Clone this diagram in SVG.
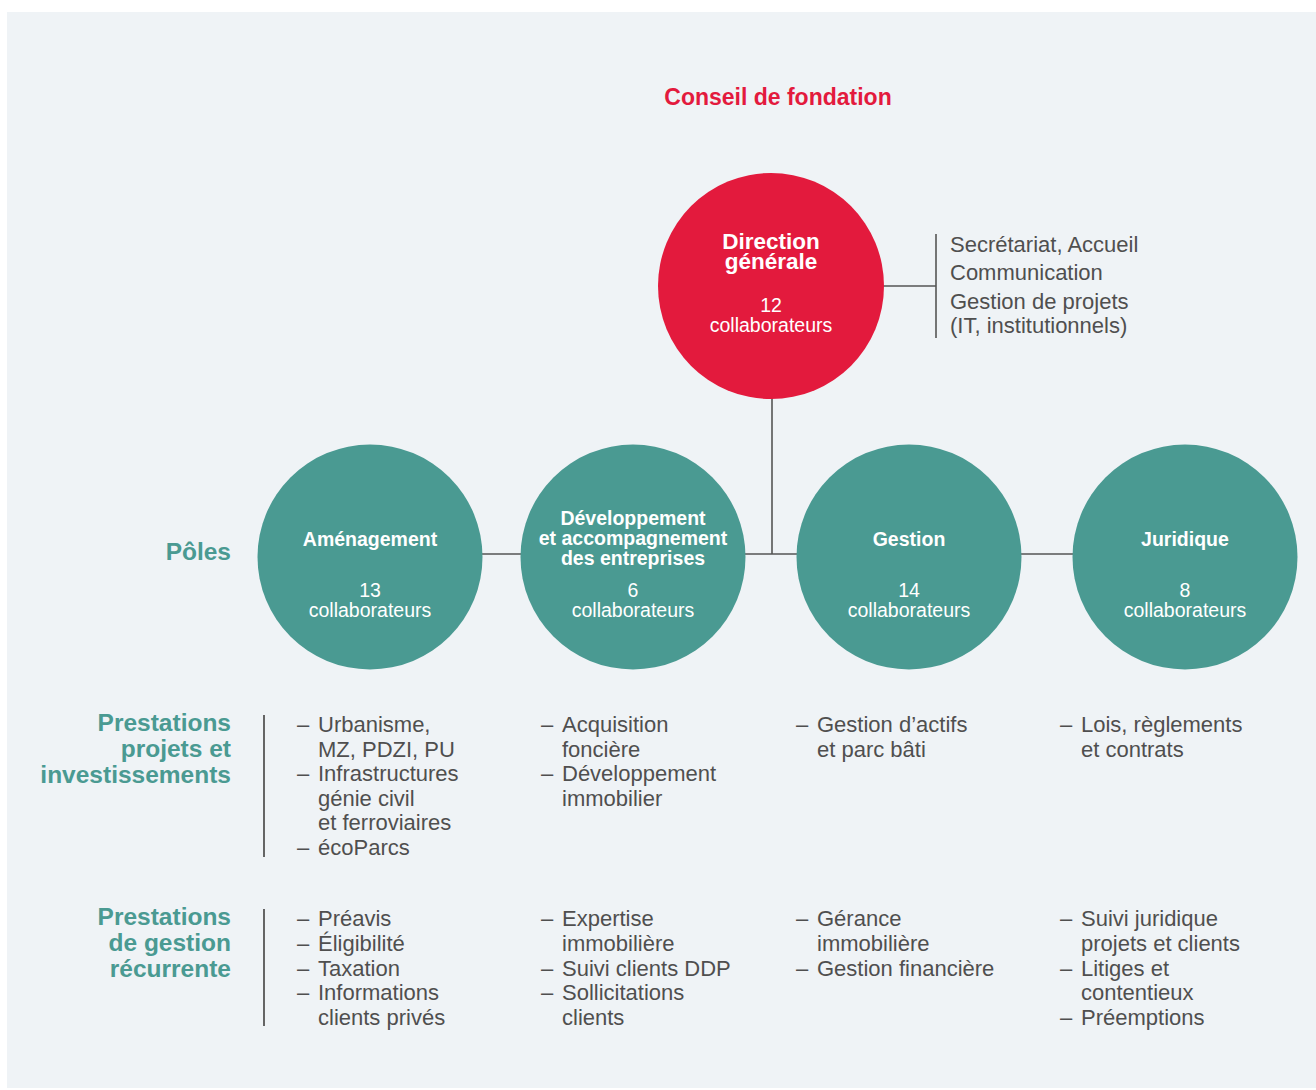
<svg xmlns="http://www.w3.org/2000/svg" width="1316" height="1090" viewBox="0 0 1316 1090">
<style>
text{font-family:"Liberation Sans",Arial,Helvetica,sans-serif}
.bg{fill:#eff3f6}
.red{fill:#e31a3d}
.teal{fill:#4a9a92}
.ln{stroke:#555;stroke-width:1.6;fill:none}
.sep{stroke:#555;stroke-width:1.8;fill:none}
.ttl{font-weight:bold;fill:#fff;font-size:19.5px;text-anchor:middle}
.big{font-size:22.5px}
.cnt{fill:#fff;font-size:19.5px;text-anchor:middle}
.lbl{font-weight:bold;fill:#4a9a92;font-size:24.5px;text-anchor:end}
.it{fill:#4f4f4f;font-size:22px}
</style>
<rect x="0" y="0" width="1316" height="1090" fill="#fff"/>
<rect class="bg" x="7" y="12" width="1309" height="1076"/>
<text x="778" y="105" font-size="23" font-weight="bold" fill="#e31a3d" text-anchor="middle">Conseil de fondation</text>
<g id="connectors">
<line class="ln" x1="772" y1="398" x2="772" y2="554"/>
<line class="ln" x1="482" y1="554" x2="1074" y2="554"/>
<line class="ln" x1="883" y1="286" x2="936" y2="286"/>
<line class="ln" x1="936" y1="234" x2="936" y2="338"/>
</g>
<g id="direction">
<circle class="red" cx="771" cy="286" r="113"/>
<text class="ttl big" x="771" y="249">Direction</text>
<text class="ttl big" x="771" y="269">générale</text>
<text class="cnt" x="771" y="312">12</text>
<text class="cnt" x="771" y="332">collaborateurs</text>
</g>
<g id="direction-services">
<text class="it" x="950" y="252">Secrétariat, Accueil</text>
<text class="it" x="950" y="280">Communication</text>
<text class="it" x="950" y="309">Gestion de projets</text>
<text class="it" x="950" y="333">(IT, institutionnels)</text>
</g>
<text class="lbl" x="231" y="560">Pôles</text>
<g id="amenagement">
<circle class="teal" cx="370" cy="557" r="112.5"/>
<text class="ttl" x="370" y="546">Aménagement</text>
<text class="cnt" x="370" y="597">13</text>
<text class="cnt" x="370" y="617">collaborateurs</text>
</g>
<g id="developpement">
<circle class="teal" cx="633" cy="557" r="112.5"/>
<text class="ttl" x="633" y="525">Développement</text>
<text class="ttl" x="633" y="545">et accompagnement</text>
<text class="ttl" x="633" y="565">des entreprises</text>
<text class="cnt" x="633" y="597">6</text>
<text class="cnt" x="633" y="617">collaborateurs</text>
</g>
<g id="gestion">
<circle class="teal" cx="909" cy="557" r="112.5"/>
<text class="ttl" x="909" y="546">Gestion</text>
<text class="cnt" x="909" y="597">14</text>
<text class="cnt" x="909" y="617">collaborateurs</text>
</g>
<g id="juridique">
<circle class="teal" cx="1185" cy="557" r="112.5"/>
<text class="ttl" x="1185" y="546">Juridique</text>
<text class="cnt" x="1185" y="597">8</text>
<text class="cnt" x="1185" y="617">collaborateurs</text>
</g>
<g id="prestations-projets">
<text class="lbl" x="231" y="731">Prestations</text>
<text class="lbl" x="231" y="757">projets et</text>
<text class="lbl" x="231" y="783">investissements</text>
<line class="sep" x1="264" y1="715" x2="264" y2="857"/>
<text class="it" x="297" y="732">–</text>
<text class="it" x="318" y="732">Urbanisme,</text>
<text class="it" x="318" y="757">MZ, PDZI, PU</text>
<text class="it" x="297" y="781">–</text>
<text class="it" x="318" y="781">Infrastructures</text>
<text class="it" x="318" y="806">génie civil</text>
<text class="it" x="318" y="830">et ferroviaires</text>
<text class="it" x="297" y="855">–</text>
<text class="it" x="318" y="855">écoParcs</text>
<text class="it" x="541" y="732">–</text>
<text class="it" x="562" y="732">Acquisition</text>
<text class="it" x="562" y="757">foncière</text>
<text class="it" x="541" y="781">–</text>
<text class="it" x="562" y="781">Développement</text>
<text class="it" x="562" y="806">immobilier</text>
<text class="it" x="796" y="732">–</text>
<text class="it" x="817" y="732">Gestion d’actifs</text>
<text class="it" x="817" y="757">et parc bâti</text>
<text class="it" x="1060" y="732">–</text>
<text class="it" x="1081" y="732">Lois, règlements</text>
<text class="it" x="1081" y="757">et contrats</text>
</g>
<g id="prestations-gestion">
<text class="lbl" x="231" y="925">Prestations</text>
<text class="lbl" x="231" y="951">de gestion</text>
<text class="lbl" x="231" y="977">récurrente</text>
<line class="sep" x1="264" y1="909" x2="264" y2="1026"/>
<text class="it" x="297" y="926">–</text>
<text class="it" x="318" y="926">Préavis</text>
<text class="it" x="297" y="951">–</text>
<text class="it" x="318" y="951">Éligibilité</text>
<text class="it" x="297" y="976">–</text>
<text class="it" x="318" y="976">Taxation</text>
<text class="it" x="297" y="1000">–</text>
<text class="it" x="318" y="1000">Informations</text>
<text class="it" x="318" y="1025">clients privés</text>
<text class="it" x="541" y="926">–</text>
<text class="it" x="562" y="926">Expertise</text>
<text class="it" x="562" y="951">immobilière</text>
<text class="it" x="541" y="976">–</text>
<text class="it" x="562" y="976">Suivi clients DDP</text>
<text class="it" x="541" y="1000">–</text>
<text class="it" x="562" y="1000">Sollicitations</text>
<text class="it" x="562" y="1025">clients</text>
<text class="it" x="796" y="926">–</text>
<text class="it" x="817" y="926">Gérance</text>
<text class="it" x="817" y="951">immobilière</text>
<text class="it" x="796" y="976">–</text>
<text class="it" x="817" y="976">Gestion financière</text>
<text class="it" x="1060" y="926">–</text>
<text class="it" x="1081" y="926">Suivi juridique</text>
<text class="it" x="1081" y="951">projets et clients</text>
<text class="it" x="1060" y="976">–</text>
<text class="it" x="1081" y="976">Litiges et</text>
<text class="it" x="1081" y="1000">contentieux</text>
<text class="it" x="1060" y="1025">–</text>
<text class="it" x="1081" y="1025">Préemptions</text>
</g>
</svg>
